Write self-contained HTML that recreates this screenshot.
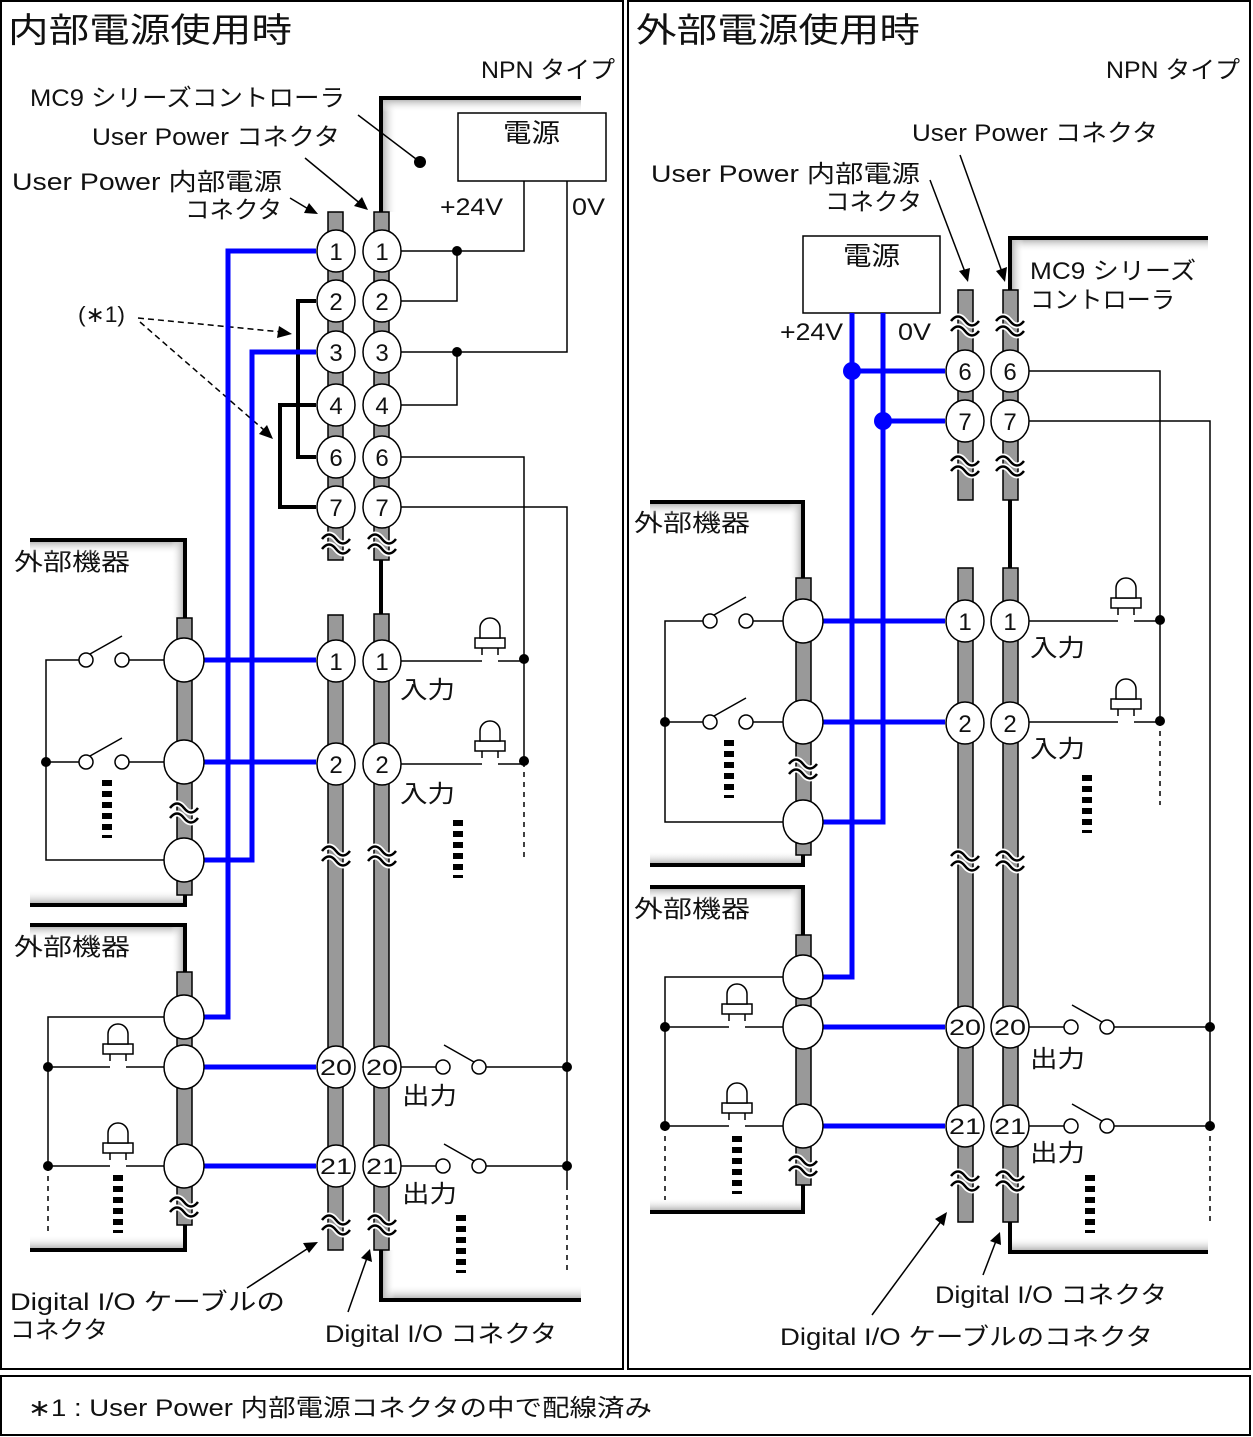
<!DOCTYPE html>
<html><head><meta charset="utf-8"><style>
html,body{margin:0;padding:0;background:#fff;}
svg{display:block;}
text{font-family:"Liberation Sans","Noto Sans CJK JP",sans-serif;fill:#111;}
</style></head><body>
<svg width="1253" height="1437" viewBox="0 0 1253 1437" xmlns="http://www.w3.org/2000/svg">
<defs>
<linearGradient id="gh" x1="0" y1="0" x2="1" y2="0"><stop offset="0" stop-color="#bbb"/><stop offset="1" stop-color="#fff" stop-opacity="0"/></linearGradient>
<linearGradient id="gv" x1="0" y1="0" x2="0" y2="1"><stop offset="0" stop-color="#bbb"/><stop offset="1" stop-color="#fff" stop-opacity="0"/></linearGradient>
<linearGradient id="gvu" x1="0" y1="1" x2="0" y2="0"><stop offset="0" stop-color="#bbb"/><stop offset="1" stop-color="#fff" stop-opacity="0"/></linearGradient>
<linearGradient id="ghl" x1="1" y1="0" x2="0" y2="0"><stop offset="0" stop-color="#bbb"/><stop offset="1" stop-color="#fff" stop-opacity="0"/></linearGradient>
<g id="wave"><path d="M-14,-6 q7,-9 14,0 t14,0 M-14,4 q7,-9 14,0 t14,0" fill="none" stroke="#fff" stroke-width="6"/><path d="M-14,-6 q7,-9 14,0 t14,0 M-14,4 q7,-9 14,0 t14,0" fill="none" stroke="#000" stroke-width="2.5"/></g>
<g id="lamp"><path d="M-8,0 V-7 M8,-7 V0" stroke="#000" stroke-width="1.5" fill="none"/><rect x="-15" y="-17" width="30" height="10" fill="#fff" stroke="#000" stroke-width="1.5"/><path d="M-10,-17 V-27 A10,10 0 0 1 10,-27 V-17 Z" fill="#fff" stroke="#000" stroke-width="1.5"/></g>
<g id="dots"><line x1="0" y1="0" x2="0" y2="58" stroke="#000" stroke-width="10" stroke-dasharray="6 5"/></g>
</defs>

<rect x="1" y="1" width="622" height="1368" fill="none" stroke="#000" stroke-width="2"/>
<rect x="628" y="1" width="622" height="1368" fill="none" stroke="#000" stroke-width="2"/>
<rect x="1" y="1376" width="1249" height="59" fill="none" stroke="#000" stroke-width="2"/>
<text x="28" y="1416" font-size="24" textLength="624" lengthAdjust="spacingAndGlyphs">∗1 : User Power 内部電源コネクタの中で配線済み</text>

<!-- LEFT PANEL -->
<text x="8" y="42" font-size="34" textLength="284" lengthAdjust="spacingAndGlyphs">内部電源使用時</text>
<text x="481" y="78" font-size="24" textLength="134" lengthAdjust="spacingAndGlyphs">NPN タイプ</text>
<text x="30" y="106" font-size="24" textLength="315" lengthAdjust="spacingAndGlyphs">MC9 シリーズコントローラ</text>
<text x="92" y="145" font-size="24" textLength="248" lengthAdjust="spacingAndGlyphs">User Power コネクタ</text>
<text x="12" y="190" font-size="24" textLength="270" lengthAdjust="spacingAndGlyphs">User Power 内部電源</text>
<text x="185" y="218" font-size="24" textLength="97" lengthAdjust="spacingAndGlyphs">コネクタ</text>
<text x="78" y="322" font-size="22" textLength="47" lengthAdjust="spacingAndGlyphs">(∗1)</text>

<rect x="383" y="100" width="14" height="112" fill="url(#gh)"/>
<rect x="383" y="100" width="198" height="12" fill="url(#gv)"/>
<rect x="383" y="1285" width="198" height="13" fill="url(#gvu)"/>
<rect x="383" y="1250" width="12" height="48" fill="url(#gh)"/>
<path d="M581,98 H381 V212 M381,560 V614 M381,1250 V1300 H581" fill="none" stroke="#000" stroke-width="4"/>

<line x1="358" y1="115" x2="420" y2="162" stroke="#000" stroke-width="1.5"/>
<circle cx="420" cy="162" r="6" fill="#000"/>
<line x1="305" y1="158" x2="362" y2="205" stroke="#000" stroke-width="1.5"/>
<polygon points="368,210 354,206 362,197" fill="#000"/>
<line x1="290" y1="198" x2="310" y2="210" stroke="#000" stroke-width="1.5"/>
<polygon points="318,214 304,213 309,203" fill="#000"/>
<path d="M138,318 L282,332" stroke="#000" stroke-width="1.5" stroke-dasharray="6 4" fill="none"/>
<polygon points="292,334 277,338 279,326" fill="#000"/>
<path d="M140,322 L264,430" stroke="#000" stroke-width="1.5" stroke-dasharray="6 4" fill="none"/>
<polygon points="273,439 259,434 267,425" fill="#000"/>
<line x1="247" y1="1288" x2="310" y2="1247" stroke="#000" stroke-width="1.5"/>
<polygon points="318,1242 309,1253 303,1243" fill="#000"/>
<line x1="348" y1="1312" x2="367" y2="1258" stroke="#000" stroke-width="1.5"/>
<polygon points="370,1249 372,1262 361,1258" fill="#000"/>
<text x="10" y="1310" font-size="24" textLength="275" lengthAdjust="spacingAndGlyphs">Digital I/O ケーブルの</text>
<text x="10" y="1338" font-size="24" textLength="98" lengthAdjust="spacingAndGlyphs">コネクタ</text>
<text x="325" y="1342" font-size="24" textLength="232" lengthAdjust="spacingAndGlyphs">Digital I/O コネクタ</text>

<rect x="458" y="113" width="148" height="68" fill="#fff" stroke="#000" stroke-width="1.5"/>
<text x="503" y="142" font-size="26" textLength="57" lengthAdjust="spacingAndGlyphs">電源</text>
<text x="440" y="215" font-size="24" textLength="63" lengthAdjust="spacingAndGlyphs">+24V</text>
<text x="572" y="215" font-size="24" textLength="33" lengthAdjust="spacingAndGlyphs">0V</text>
<g stroke="#000" stroke-width="1.5" fill="none">
<path d="M524,181 V251 H400 M457,251 V301 H400"/>
<path d="M567,181 V352 H400 M457,352 V405 H400"/>
<path d="M400,457 H524 V762"/>
<path d="M400,507 H567 V1185"/>
<path d="M524,762 V862 M567,1185 V1272" stroke-dasharray="5 5"/>
</g>
<circle cx="457" cy="251" r="5" fill="#000"/>
<circle cx="457" cy="352" r="5" fill="#000"/>
<circle cx="524" cy="659" r="5" fill="#000"/>
<circle cx="524" cy="761" r="5" fill="#000"/>
<circle cx="567" cy="1067" r="5" fill="#000"/>
<circle cx="567" cy="1166" r="5" fill="#000"/>

<g stroke="#000" stroke-width="1.5" fill="none">
<path d="M400,661 H482 M498,661 H524"/>
<path d="M400,764 H482 M498,764 H524"/>
</g>
<use href="#lamp" x="490" y="655"/>
<use href="#lamp" x="490" y="758"/>
<text x="400" y="698" font-size="24" textLength="55" lengthAdjust="spacingAndGlyphs">入力</text>
<text x="400" y="802" font-size="24" textLength="55" lengthAdjust="spacingAndGlyphs">入力</text>
<use href="#dots" x="458" y="820"/>

<g stroke="#000" stroke-width="1.5" fill="none">
<path d="M400,1067 H436 M486,1067 H567"/>
<path d="M400,1166 H436 M486,1166 H567"/>
<path d="M444,1045 L474,1062 M444,1144 L474,1161"/>
</g>
<circle cx="443" cy="1067" r="7" fill="#fff" stroke="#000" stroke-width="1.5"/>
<circle cx="479" cy="1067" r="7" fill="#fff" stroke="#000" stroke-width="1.5"/>
<circle cx="443" cy="1166" r="7" fill="#fff" stroke="#000" stroke-width="1.5"/>
<circle cx="479" cy="1166" r="7" fill="#fff" stroke="#000" stroke-width="1.5"/>
<text x="402" y="1104" font-size="24" textLength="55" lengthAdjust="spacingAndGlyphs">出力</text>
<text x="402" y="1202" font-size="24" textLength="55" lengthAdjust="spacingAndGlyphs">出力</text>
<use href="#dots" x="461" y="1215"/>

<text x="14" y="570" font-size="24" textLength="116" lengthAdjust="spacingAndGlyphs">外部機器</text>
<rect x="30" y="542" width="153" height="12" fill="url(#gv)"/>
<rect x="171" y="542" width="12" height="76" fill="url(#ghl)"/>
<rect x="30" y="890" width="153" height="13" fill="url(#gvu)"/>
<path d="M30,540 H185 V618 M185,895 V905 H30" fill="none" stroke="#000" stroke-width="4"/>
<rect x="177" y="618" width="15" height="277" fill="#999" stroke="#000" stroke-width="1.5"/>
<g stroke="#000" stroke-width="1.5" fill="none">
<path d="M164,660 H129 M79,660 H46 V860 H164 M46,762 H79 M129,762 H164"/>
<path d="M90,654 L122,636 M90,756 L122,738"/>
</g>
<circle cx="46" cy="762" r="5" fill="#000"/>
<circle cx="86" cy="660" r="7" fill="#fff" stroke="#000" stroke-width="1.5"/>
<circle cx="122" cy="660" r="7" fill="#fff" stroke="#000" stroke-width="1.5"/>
<circle cx="86" cy="762" r="7" fill="#fff" stroke="#000" stroke-width="1.5"/>
<circle cx="122" cy="762" r="7" fill="#fff" stroke="#000" stroke-width="1.5"/>
<use href="#dots" x="107" y="780"/>
<use href="#wave" x="184" y="814"/>

<text x="14" y="955" font-size="24" textLength="116" lengthAdjust="spacingAndGlyphs">外部機器</text>
<rect x="30" y="927" width="153" height="12" fill="url(#gv)"/>
<rect x="171" y="927" width="12" height="45" fill="url(#ghl)"/>
<rect x="30" y="1235" width="153" height="13" fill="url(#gvu)"/>
<path d="M30,925 H185 V972 M185,1225 V1250 H30" fill="none" stroke="#000" stroke-width="4"/>
<rect x="177" y="972" width="15" height="253" fill="#999" stroke="#000" stroke-width="1.5"/>
<g stroke="#000" stroke-width="1.5" fill="none">
<path d="M164,1017 H48 V1166 M48,1067 H110 M126,1067 H164 M48,1166 H110 M126,1166 H164"/>
<path d="M48,1166 V1232" stroke-dasharray="5 5"/>
</g>
<use href="#lamp" x="118" y="1061"/>
<use href="#lamp" x="118" y="1160"/>
<circle cx="48" cy="1067" r="5" fill="#000"/>
<circle cx="48" cy="1166" r="5" fill="#000"/>
<use href="#dots" x="118" y="1175"/>
<use href="#wave" x="184" y="1208"/>

<path d="M316,301 H298 V457 H316 M316,405 H280 V507 H316" fill="none" stroke="#000" stroke-width="4"/>

<g stroke="#0000ff" stroke-width="5" fill="none">
<path d="M316,251 H228 V1017 H204"/>
<path d="M316,352 H252 V860 H204"/>
<path d="M204,660 H316 M204,762 H316"/>
<path d="M204,1067 H316 M204,1166 H316"/>
</g>

<g fill="#999" stroke="#000" stroke-width="1.5">
<rect x="328" y="212" width="15" height="348"/>
<rect x="374" y="212" width="15" height="348"/>
<rect x="328" y="615" width="15" height="635"/>
<rect x="374" y="614" width="15" height="636"/>
</g>
<use href="#wave" x="336" y="545"/><use href="#wave" x="382" y="545"/>
<use href="#wave" x="336" y="857"/><use href="#wave" x="382" y="857"/>
<use href="#wave" x="336" y="1226"/><use href="#wave" x="382" y="1226"/>
<g fill="#fff" stroke="#000" stroke-width="1.5">
<ellipse cx="336" cy="251" rx="19" ry="21"/><ellipse cx="382" cy="251" rx="19" ry="21"/>
<ellipse cx="336" cy="301" rx="19" ry="21"/><ellipse cx="382" cy="301" rx="19" ry="21"/>
<ellipse cx="336" cy="352" rx="19" ry="21"/><ellipse cx="382" cy="352" rx="19" ry="21"/>
<ellipse cx="336" cy="405" rx="19" ry="21"/><ellipse cx="382" cy="405" rx="19" ry="21"/>
<ellipse cx="336" cy="457" rx="19" ry="21"/><ellipse cx="382" cy="457" rx="19" ry="21"/>
<ellipse cx="336" cy="507" rx="19" ry="21"/><ellipse cx="382" cy="507" rx="19" ry="21"/>
<ellipse cx="336" cy="661" rx="19" ry="21"/><ellipse cx="382" cy="661" rx="19" ry="21"/>
<ellipse cx="336" cy="764" rx="19" ry="21"/><ellipse cx="382" cy="764" rx="19" ry="21"/>
<ellipse cx="336" cy="1067" rx="19" ry="21"/><ellipse cx="382" cy="1067" rx="19" ry="21"/>
<ellipse cx="336" cy="1166" rx="19" ry="21"/><ellipse cx="382" cy="1166" rx="19" ry="21"/>
<ellipse cx="184" cy="660" rx="20" ry="22"/><ellipse cx="184" cy="762" rx="20" ry="22"/><ellipse cx="184" cy="860" rx="20" ry="22"/>
<ellipse cx="184" cy="1017" rx="20" ry="22"/><ellipse cx="184" cy="1067" rx="20" ry="22"/><ellipse cx="184" cy="1166" rx="20" ry="22"/>
</g>
<g font-size="24" text-anchor="middle">
<text x="336" y="260">1</text><text x="382" y="260">1</text>
<text x="336" y="310">2</text><text x="382" y="310">2</text>
<text x="336" y="361">3</text><text x="382" y="361">3</text>
<text x="336" y="414">4</text><text x="382" y="414">4</text>
<text x="336" y="466">6</text><text x="382" y="466">6</text>
<text x="336" y="516">7</text><text x="382" y="516">7</text>
<text x="336" y="670">1</text><text x="382" y="670">1</text>
<text x="336" y="773">2</text><text x="382" y="773">2</text>
</g>
<g font-size="22" text-anchor="middle">
<text x="336" y="1075" textLength="32" lengthAdjust="spacingAndGlyphs">20</text><text x="382" y="1075" textLength="32" lengthAdjust="spacingAndGlyphs">20</text>
<text x="336" y="1174" textLength="32" lengthAdjust="spacingAndGlyphs">21</text><text x="382" y="1174" textLength="32" lengthAdjust="spacingAndGlyphs">21</text>
</g>

<!-- RIGHT PANEL -->
<text x="636" y="42" font-size="34" textLength="284" lengthAdjust="spacingAndGlyphs">外部電源使用時</text>
<text x="1106" y="78" font-size="24" textLength="134" lengthAdjust="spacingAndGlyphs">NPN タイプ</text>
<text x="912" y="141" font-size="24" textLength="246" lengthAdjust="spacingAndGlyphs">User Power コネクタ</text>
<text x="651" y="182" font-size="24" textLength="269" lengthAdjust="spacingAndGlyphs">User Power 内部電源</text>
<text x="825" y="210" font-size="24" textLength="97" lengthAdjust="spacingAndGlyphs">コネクタ</text>
<text x="1030" y="279" font-size="24" textLength="166" lengthAdjust="spacingAndGlyphs">MC9 シリーズ</text>
<text x="1030" y="308" font-size="24" textLength="145" lengthAdjust="spacingAndGlyphs">コントローラ</text>

<rect x="1012" y="240" width="196" height="12" fill="url(#gv)"/>
<rect x="1012" y="240" width="12" height="50" fill="url(#gh)"/>
<rect x="1012" y="1237" width="196" height="13" fill="url(#gvu)"/>
<path d="M1208,238 H1010 V290 M1010,500 V568 M1010,1222 V1252 H1208" fill="none" stroke="#000" stroke-width="4"/>

<line x1="930" y1="180" x2="965" y2="272" stroke="#000" stroke-width="1.5"/>
<polygon points="968,282 959,271 970,268" fill="#000"/>
<line x1="960" y1="155" x2="1002" y2="272" stroke="#000" stroke-width="1.5"/>
<polygon points="1005,282 996,271 1007,267" fill="#000"/>
<line x1="872" y1="1315" x2="942" y2="1220" stroke="#000" stroke-width="1.5"/>
<polygon points="947,1212 944,1226 935,1219" fill="#000"/>
<line x1="983" y1="1275" x2="996" y2="1241" stroke="#000" stroke-width="1.5"/>
<polygon points="1000,1232 1001,1245 990,1241" fill="#000"/>
<text x="935" y="1303" font-size="24" textLength="232" lengthAdjust="spacingAndGlyphs">Digital I/O コネクタ</text>
<text x="780" y="1345" font-size="24" textLength="373" lengthAdjust="spacingAndGlyphs">Digital I/O ケーブルのコネクタ</text>

<rect x="803" y="236" width="137" height="77" fill="#fff" stroke="#000" stroke-width="1.5"/>
<text x="843" y="265" font-size="26" textLength="57" lengthAdjust="spacingAndGlyphs">電源</text>
<text x="780" y="340" font-size="24" textLength="63" lengthAdjust="spacingAndGlyphs">+24V</text>
<text x="898" y="340" font-size="24" textLength="33" lengthAdjust="spacingAndGlyphs">0V</text>

<g stroke="#000" stroke-width="1.5" fill="none">
<path d="M1029,371 H1160 V721 M1029,421 H1210 V1126"/>
<path d="M1160,721 V805 M1210,1126 V1225" stroke-dasharray="5 5"/>
<path d="M1029,621 H1118 M1134,621 H1160 M1029,722 H1118 M1134,722 H1160"/>
<path d="M1029,1027 H1064 M1114,1027 H1210 M1029,1126 H1064 M1114,1126 H1210"/>
<path d="M1072,1005 L1102,1022 M1072,1104 L1102,1121"/>
</g>
<use href="#lamp" x="1126" y="615"/>
<use href="#lamp" x="1126" y="716"/>
<circle cx="1160" cy="620" r="5" fill="#000"/>
<circle cx="1160" cy="721" r="5" fill="#000"/>
<circle cx="1210" cy="1027" r="5" fill="#000"/>
<circle cx="1210" cy="1126" r="5" fill="#000"/>
<circle cx="1071" cy="1027" r="7" fill="#fff" stroke="#000" stroke-width="1.5"/>
<circle cx="1107" cy="1027" r="7" fill="#fff" stroke="#000" stroke-width="1.5"/>
<circle cx="1071" cy="1126" r="7" fill="#fff" stroke="#000" stroke-width="1.5"/>
<circle cx="1107" cy="1126" r="7" fill="#fff" stroke="#000" stroke-width="1.5"/>
<text x="1030" y="656" font-size="24" textLength="55" lengthAdjust="spacingAndGlyphs">入力</text>
<text x="1030" y="757" font-size="24" textLength="55" lengthAdjust="spacingAndGlyphs">入力</text>
<text x="1030" y="1067" font-size="24" textLength="55" lengthAdjust="spacingAndGlyphs">出力</text>
<text x="1030" y="1161" font-size="24" textLength="55" lengthAdjust="spacingAndGlyphs">出力</text>
<use href="#dots" x="1087" y="775"/>
<use href="#dots" x="1090" y="1175"/>

<text x="634" y="531" font-size="24" textLength="116" lengthAdjust="spacingAndGlyphs">外部機器</text>
<rect x="650" y="504" width="151" height="12" fill="url(#gv)"/>
<rect x="789" y="504" width="12" height="74" fill="url(#ghl)"/>
<rect x="650" y="851" width="151" height="12" fill="url(#gvu)"/>
<path d="M650,502 H803 V578 M803,855 V865 H650" fill="none" stroke="#000" stroke-width="4"/>
<rect x="796" y="578" width="15" height="277" fill="#999" stroke="#000" stroke-width="1.5"/>
<g stroke="#000" stroke-width="1.5" fill="none">
<path d="M783,621 H753 M703,621 H665 V822 H783 M665,722 H703 M753,722 H783"/>
<path d="M714,615 L746,597 M714,716 L746,698"/>
</g>
<circle cx="665" cy="722" r="5" fill="#000"/>
<circle cx="710" cy="621" r="7" fill="#fff" stroke="#000" stroke-width="1.5"/>
<circle cx="746" cy="621" r="7" fill="#fff" stroke="#000" stroke-width="1.5"/>
<circle cx="710" cy="722" r="7" fill="#fff" stroke="#000" stroke-width="1.5"/>
<circle cx="746" cy="722" r="7" fill="#fff" stroke="#000" stroke-width="1.5"/>
<use href="#dots" x="729" y="740"/>
<use href="#wave" x="803" y="770"/>

<text x="634" y="917" font-size="24" textLength="116" lengthAdjust="spacingAndGlyphs">外部機器</text>
<rect x="650" y="889" width="151" height="12" fill="url(#gv)"/>
<rect x="789" y="889" width="12" height="46" fill="url(#ghl)"/>
<rect x="650" y="1198" width="151" height="12" fill="url(#gvu)"/>
<path d="M650,887 H803 V935 M803,1185 V1212 H650" fill="none" stroke="#000" stroke-width="4"/>
<rect x="796" y="935" width="15" height="250" fill="#999" stroke="#000" stroke-width="1.5"/>
<g stroke="#000" stroke-width="1.5" fill="none">
<path d="M783,977 H665 V1126 M665,1027 H729 M745,1027 H783 M665,1126 H729 M745,1126 H783"/>
<path d="M665,1126 V1200" stroke-dasharray="5 5"/>
</g>
<use href="#lamp" x="737" y="1021"/>
<use href="#lamp" x="737" y="1120"/>
<circle cx="665" cy="1027" r="5" fill="#000"/>
<circle cx="665" cy="1126" r="5" fill="#000"/>
<use href="#dots" x="737" y="1136"/>
<use href="#wave" x="803" y="1167"/>

<g stroke="#0000ff" stroke-width="5" fill="none">
<path d="M852,313 V977 H823"/>
<path d="M883,313 V822 H823"/>
<path d="M852,371 H945 M883,421 H945"/>
<path d="M823,621 H945 M823,722 H945 M823,1027 H945 M823,1126 H945"/>
</g>
<circle cx="852" cy="371" r="9" fill="#0000ff"/>
<circle cx="883" cy="421" r="9" fill="#0000ff"/>

<g fill="#999" stroke="#000" stroke-width="1.5">
<rect x="958" y="290" width="15" height="210"/>
<rect x="1003" y="290" width="15" height="210"/>
<rect x="958" y="568" width="15" height="654"/>
<rect x="1003" y="568" width="15" height="654"/>
</g>
<use href="#wave" x="965" y="327"/><use href="#wave" x="1010" y="327"/>
<use href="#wave" x="965" y="467"/><use href="#wave" x="1010" y="467"/>
<use href="#wave" x="965" y="862"/><use href="#wave" x="1010" y="862"/>
<use href="#wave" x="965" y="1182"/><use href="#wave" x="1010" y="1182"/>
<g fill="#fff" stroke="#000" stroke-width="1.5">
<ellipse cx="965" cy="371" rx="19" ry="21"/><ellipse cx="1010" cy="371" rx="19" ry="21"/>
<ellipse cx="965" cy="421" rx="19" ry="21"/><ellipse cx="1010" cy="421" rx="19" ry="21"/>
<ellipse cx="965" cy="621" rx="19" ry="21"/><ellipse cx="1010" cy="621" rx="19" ry="21"/>
<ellipse cx="965" cy="723" rx="19" ry="21"/><ellipse cx="1010" cy="723" rx="19" ry="21"/>
<ellipse cx="965" cy="1027" rx="19" ry="21"/><ellipse cx="1010" cy="1027" rx="19" ry="21"/>
<ellipse cx="965" cy="1126" rx="19" ry="21"/><ellipse cx="1010" cy="1126" rx="19" ry="21"/>
<ellipse cx="803" cy="621" rx="20" ry="22"/><ellipse cx="803" cy="722" rx="20" ry="22"/><ellipse cx="803" cy="822" rx="20" ry="22"/>
<ellipse cx="803" cy="977" rx="20" ry="22"/><ellipse cx="803" cy="1027" rx="20" ry="22"/><ellipse cx="803" cy="1126" rx="20" ry="22"/>
</g>
<g font-size="24" text-anchor="middle">
<text x="965" y="380">6</text><text x="1010" y="380">6</text>
<text x="965" y="430">7</text><text x="1010" y="430">7</text>
<text x="965" y="630">1</text><text x="1010" y="630">1</text>
<text x="965" y="732">2</text><text x="1010" y="732">2</text>
</g>
<g font-size="22" text-anchor="middle">
<text x="965" y="1035" textLength="32" lengthAdjust="spacingAndGlyphs">20</text><text x="1010" y="1035" textLength="32" lengthAdjust="spacingAndGlyphs">20</text>
<text x="965" y="1134" textLength="32" lengthAdjust="spacingAndGlyphs">21</text><text x="1010" y="1134" textLength="32" lengthAdjust="spacingAndGlyphs">21</text>
</g>
</svg>
</body></html>
